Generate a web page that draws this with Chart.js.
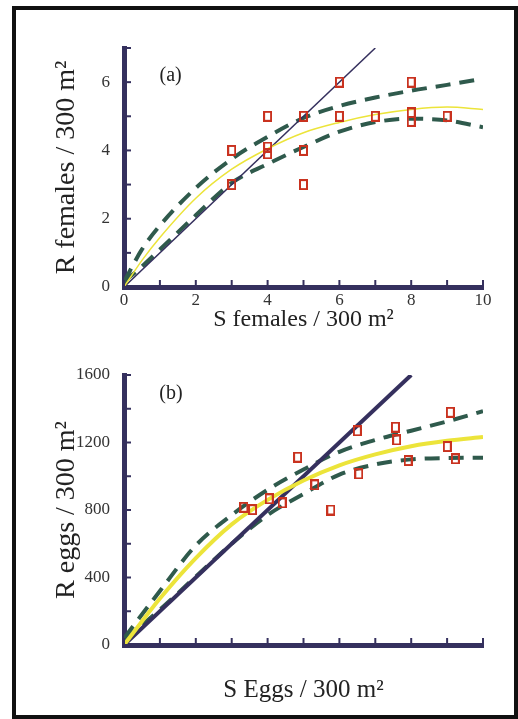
<!DOCTYPE html>
<html>
<head>
<meta charset="utf-8">
<script src="https://cdn.jsdelivr.net/npm/chart.js@4.4.1/dist/chart.umd.min.js"></script>
<style>
  body { margin: 0; background: #fff; }
  #frame { position: absolute; left: 12px; top: 6px; width: 506px; height: 713px; border: 4px solid #111; box-sizing: border-box; }
  canvas { position: absolute; }
  #chartA { left: 16px; top: 12px; }
  #chartB { left: 16px; top: 350px; }
</style>
</head>
<body>
<div id="frame"></div>
<canvas id="chartA" width="496" height="330"></canvas>
<canvas id="chartB" width="496" height="360"></canvas>
<script>
// (a) females: spawners vs recruits
const femS = [3, 3, 4, 4, 4, 5, 5, 5, 6, 6, 7, 8, 8, 8, 9];
const femR = [4, 3, 5, 4.1, 3.9, 5, 4, 3, 6, 5, 5, 6, 5.1, 4.85, 5];
const femCurveS = [0, 0.5, 1, 2, 3, 4, 5, 6, 7, 8, 9, 10];
const femFit   = [0, 0.78, 1.45, 2.6, 3.45, 4.05, 4.52, 4.82, 5.05, 5.2, 5.27, 5.2];
const femUpper = [0.15, 1.1, 1.8, 2.9, 3.75, 4.4, 4.95, 5.3, 5.55, 5.75, 5.92, 6.1];
const femLower = [0.15, 0.6, 1.1, 2.1, 3.05, 3.6, 4.1, 4.55, 4.83, 4.93, 4.88, 4.68];
const femOneToOne = [0, 7];
const femXLabels = [0, 2, 4, 6, 8, 10];
const femYLabels = [0, 2, 4, 6];

// (b) eggs: spawners vs recruits
const eggS = [668, 716, 809, 881, 967, 1063, 1152, 1300, 1308, 1512, 1519, 1583, 1818, 1801, 1846];
const eggR = [816, 802, 866, 842, 1113, 949, 800, 1269, 1014, 1291, 1215, 1093, 1379, 1176, 1103];
const eggCurveS = [0, 200, 400, 600, 800, 1000, 1200, 1400, 1600, 1800, 2000];
const eggFit   = [0, 275, 515, 715, 860, 975, 1065, 1130, 1178, 1210, 1232];
const eggUpper = [40, 320, 590, 770, 920, 1040, 1145, 1215, 1270, 1325, 1385];
const eggLower = [30, 210, 405, 600, 770, 895, 1010, 1070, 1100, 1108, 1110];
const eggOneToOne = [0, 1600];
const eggYLabels = [0, 400, 800, 1200, 1600];

const navy = '#35305e';
const dashGreen = '#2f5a4c';
const yellow = '#ece43a';

Chart.defaults.font.family = "'Liberation Serif', 'Times New Roman', serif";
Chart.defaults.color = '#333';

function pts(xs, ys) {
  return xs.map((x, i) => ({ x: x, y: ys[i] }));
}

// hollow upright rectangle used for the observations
function boxMark() {
  const c = document.createElement('canvas');
  c.width = 9; c.height = 11;
  const g = c.getContext('2d');
  g.strokeStyle = '#c9321f';
  g.lineWidth = 2;
  g.strokeRect(1, 1, 7, 9);
  return c;
}

// tick marks pointing into the plot
const innerTicks = {
  id: 'innerTicks',
  afterDatasetsDraw(chart) {
    const { ctx, chartArea: a, scales } = chart;
    ctx.save();
    ctx.strokeStyle = navy;
    ctx.lineWidth = 2;
    scales.x.ticks.forEach(t => {
      const px = scales.x.getPixelForValue(t.value);
      ctx.beginPath();
      ctx.moveTo(px, a.bottom);
      ctx.lineTo(px, a.bottom - 7);
      ctx.stroke();
    });
    scales.y.ticks.forEach(t => {
      const py = scales.y.getPixelForValue(t.value);
      ctx.beginPath();
      ctx.moveTo(a.left, py);
      ctx.lineTo(a.left + 7, py);
      ctx.stroke();
    });
    ctx.restore();
  }
};

// "(a)" / "(b)" tag inside the plot
const panelTag = {
  id: 'panelTag',
  afterDraw(chart, args, opts) {
    if (!opts.text) return;
    const { ctx, scales } = chart;
    ctx.save();
    ctx.font = "20px 'Liberation Serif', serif";
    ctx.fillStyle = '#222';
    ctx.textAlign = 'center';
    ctx.textBaseline = 'middle';
    ctx.fillText(opts.text, scales.x.getPixelForValue(opts.x), scales.y.getPixelForValue(opts.y));
    ctx.restore();
  }
};

function makeChart(id, cfg) {
  const mark = boxMark();
  return new Chart(document.getElementById(id), {
    type: 'scatter',
    data: {
      datasets: [
        {
          data: pts(cfg.obsX, cfg.obsY),
          pointStyle: mark,
          pointRadius: 5
        },
        {
          data: pts(cfg.curveX, cfg.fit),
          showLine: true,
          borderColor: yellow,
          borderWidth: cfg.fitWidth,
          pointRadius: 0,
          cubicInterpolationMode: 'monotone'
        },
        {
          data: pts(cfg.oneToOne, cfg.oneToOne),
          showLine: true,
          borderColor: navy,
          borderWidth: cfg.lineWidth,
          pointRadius: 0
        },
        {
          data: pts(cfg.curveX, cfg.upper),
          showLine: true,
          borderColor: dashGreen,
          borderWidth: 4,
          borderDash: [15, 9],
          pointRadius: 0,
          cubicInterpolationMode: 'monotone'
        },
        {
          data: pts(cfg.curveX, cfg.lower),
          showLine: true,
          borderColor: dashGreen,
          borderWidth: 4,
          borderDash: [15, 9],
          pointRadius: 0,
          cubicInterpolationMode: 'monotone'
        }
      ]
    },
    options: {
      responsive: false,
      animation: false,
      layout: { padding: cfg.padding },
      plugins: {
        legend: { display: false },
        tooltip: { enabled: false },
        panelTag: cfg.tag
      },
      scales: {
        x: {
          type: 'linear',
          min: 0,
          max: cfg.xMax,
          afterFit: s => { s.height = cfg.xHeight; },
          border: { color: navy, width: 5 },
          grid: { drawOnChartArea: false, drawTicks: false },
          ticks: {
            display: cfg.xLabels.length > 0,
            stepSize: cfg.xStep,
            autoSkip: false,
            maxRotation: 0,
            padding: 3,
            font: { size: 17 },
            callback: v => cfg.xLabels.includes(v) ? String(v) : ''
          },
          title: {
            display: true,
            text: cfg.xTitle,
            color: '#222',
            font: { size: cfg.xTitleSize },
            padding: { top: 0, bottom: cfg.xTitlePad }
          }
        },
        y: {
          min: 0,
          max: cfg.yMax,
          afterFit: s => { s.width = 108; },
          border: { color: navy, width: 5 },
          grid: { drawOnChartArea: false, drawTicks: false },
          ticks: {
            stepSize: cfg.yStep,
            autoSkip: false,
            padding: 14,
            font: { size: 17 },
            callback: v => cfg.yLabels.includes(v) ? String(v) : ''
          },
          title: {
            display: true,
            text: cfg.yTitle,
            color: '#222',
            font: { size: 28 },
            padding: { top: 34, bottom: 0 }
          }
        }
      }
    },
    plugins: [innerTicks, panelTag]
  });
}

makeChart('chartA', {
  obsX: femS, obsY: femR,
  curveX: femCurveS, fit: femFit, upper: femUpper, lower: femLower,
  oneToOne: femOneToOne,
  fitWidth: 1.5, lineWidth: 1.5,
  xMax: 10, xStep: 1, yMax: 7, yStep: 1,
  xLabels: femXLabels, yLabels: femYLabels,
  xTitle: 'S females / 300 m²', xTitleSize: 24, xTitlePad: 8,
  yTitle: 'R females / 300 m²',
  xHeight: 55,
  padding: { left: 0, right: 29, top: 36, bottom: 0 },
  tag: { text: '(a)', x: 1.3, y: 6.2 }
});

makeChart('chartB', {
  obsX: eggS, obsY: eggR,
  curveX: eggCurveS, fit: eggFit, upper: eggUpper, lower: eggLower,
  oneToOne: eggOneToOne,
  fitWidth: 4, lineWidth: 4,
  xMax: 2000, xStep: 200, yMax: 1600, yStep: 200,
  xLabels: [], yLabels: eggYLabels,
  xTitle: 'S Eggs / 300 m²', xTitleSize: 25, xTitlePad: 5,
  yTitle: 'R eggs / 300 m²',
  xHeight: 65,
  padding: { left: 0, right: 29, top: 25, bottom: 0 },
  tag: { text: '(b)', x: 262, y: 1487 }
});
</script>
</body>
</html>
